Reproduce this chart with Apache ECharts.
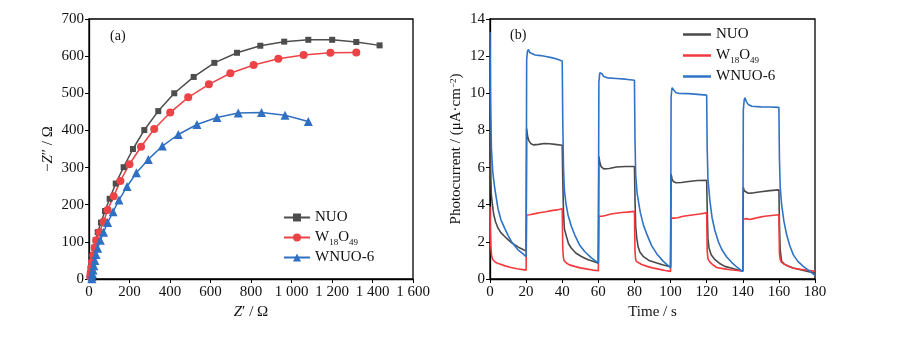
<!DOCTYPE html>
<html>
<head>
<meta charset="utf-8">
<script src="https://cdn.jsdelivr.net/npm/echarts@6/dist/echarts.min.js"></script>
<style>
html,body{margin:0;padding:0;background:#fff;}
#chart{width:911px;height:342px;}
</style>
</head>
<body>
<div id="chart"></div>
<script>
// ---------- Panel (a): Nyquist plot ----------
var zTickLabels = ['0','200','400','600','800','1 000','1 200','1 400','1 600'];
var nuoRe  = [1435,1320,1201,1083,964,846,731,619,517,421,342,273,217,171,132,102,79,59,43,33,25,18,13,9,6,4];
var nuoIm  = [629,638,644,644,639,628,609,582,544,500,452,401,350,301,257,216,183,152,126,104,84,64,46,30,16,6];
var w18Re  = [1320,1192,1060,935,813,698,592,490,401,322,257,200,155,122,92,72,52,36,28,21,15,11,8,6];
var w18Im  = [610,609,603,593,576,554,524,489,448,404,356,309,264,223,186,154,126,104,84,64,46,30,16,6];
var wnuRe  = [1083,968,852,737,632,533,441,362,293,234,188,148,119,92,72,56,43,35,29,24,20,17,15,14];
var wnuIm  = [424,441,448,447,435,416,389,358,322,286,249,213,181,152,126,104,83,66,50,36,24,14,6,1];

// ---------- Panel (b): Photocurrent vs time ([t, I]) ----------
var pcNUO = [
 [0,9.0],[0.3,6.0],[0.7,4.6],[1.1,4.2],[2,3.5],[3,3.1],[4.4,2.75],[6,2.5],[8,2.3],[10,2.12],[12,1.95],[14,1.82],[16,1.7],[18,1.6],[20,1.5],
 [20.3,8.1],[20.8,7.7],[21.5,7.45],[22.5,7.3],[24,7.22],[27,7.25],[30,7.3],[33,7.28],[36,7.25],[40,7.2],
 [40.3,5.4],[40.7,3.6],[41.2,2.7],[42.3,2.3],[43.5,1.9],[45,1.67],[47.5,1.4],[50.6,1.21],[54,1.05],[57,0.95],[60,0.85],
 [60.3,6.6],[60.8,6.3],[61.5,6.05],[63,5.93],[66,5.95],[70,6.03],[75,6.06],[80,6.06],
 [80.3,4.3],[80.7,2.8],[81.3,2.2],[82,1.75],[83,1.45],[85,1.2],[88,1.0],[92.4,0.86],[96,0.75],[100,0.66],
 [100.3,5.65],[100.8,5.4],[101.5,5.25],[103,5.18],[106,5.2],[110,5.25],[115,5.3],[120,5.32],
 [120.3,3.8],[120.7,2.2],[121.3,1.67],[122.5,1.3],[124.6,1.04],[127,0.85],[130,0.68],[134,0.58],[137,0.5],[140,0.42],
 [140.3,4.94],[140.8,4.75],[141.5,4.65],[143,4.62],[146,4.64],[150,4.7],[155,4.76],[160,4.8],
 [160.3,3.0],[160.7,1.6],[161.5,0.95],[163,0.8],[165,0.7],[168,0.59],[172,0.5],[176,0.4],[180,0.32]
];
var pcW18 = [
 [0,3.9],[0.2,2.6],[0.5,1.7],[0.9,1.25],[1.5,1.05],[3,0.9],[5,0.82],[8,0.72],[11,0.63],[15,0.55],[20,0.48],
 [20.3,3.45],[22,3.46],[25,3.52],[28,3.58],[31,3.62],[34,3.68],[37,3.72],[40,3.78],
 [40.3,1.7],[40.6,1.2],[41,1.0],[42.3,0.86],[44,0.76],[46.9,0.68],[50,0.6],[54,0.53],[57,0.48],[60,0.44],
 [60.3,3.38],[62,3.38],[64,3.42],[67,3.5],[70,3.54],[73,3.58],[76,3.6],[80,3.64],
 [80.3,1.5],[80.6,1.1],[81,0.95],[82,0.86],[84,0.78],[87,0.68],[90,0.6],[94,0.52],[97,0.46],[100,0.41],
 [100.3,3.28],[102,3.28],[104,3.3],[107,3.38],[110,3.42],[113,3.46],[116,3.5],[120,3.56],
 [120.3,1.5],[120.7,1.1],[121.5,0.95],[123,0.8],[125.5,0.62],[129,0.56],[133,0.5],[137,0.46],[140,0.43],
 [140.3,3.22],[142,3.25],[144,3.2],[146,3.25],[149,3.32],[152,3.38],[156,3.42],[160,3.46],
 [160.3,1.4],[160.7,1.05],[161.5,0.9],[163,0.8],[165,0.7],[168,0.58],[172,0.52],[176,0.47],[180,0.41]
];
var pcWNU = [
 [0,13.3],[0.3,9.6],[0.8,7.0],[1.5,5.8],[2.6,4.9],[4.4,3.8],[6,3.2],[8.1,2.74],[10,2.35],[11.8,2.02],[14,1.75],[15.5,1.57],[18,1.38],[20,1.2],
 [20.3,11.8],[20.7,12.25],[21.2,12.36],[22,12.2],[23,12.1],[25,12.06],[28,12.03],[31,11.98],[34,11.92],[37,11.85],[40,11.74],
 [40.3,8.5],[40.7,6.0],[41.2,4.8],[42,4.1],[43.2,3.45],[45,2.85],[46.9,2.38],[49.5,1.85],[52.4,1.48],[56,1.15],[60,0.85],
 [60.3,10.6],[60.8,11.1],[61.3,11.2],[62,11.05],[63,10.9],[65,10.83],[70,10.8],[75,10.76],[80,10.7],
 [80.3,7.5],[80.7,5.6],[81.5,4.6],[83.2,3.6],[85,2.9],[86.9,2.4],[89.5,1.8],[92.4,1.35],[96,0.95],[100,0.6],
 [100.3,9.8],[100.8,10.3],[101.2,10.38],[102,10.15],[103,10.03],[105,9.99],[110,9.98],[115,9.94],[120,9.9],
 [120.3,7.0],[120.7,5.4],[121.8,4.2],[123,3.3],[124.6,2.6],[126.5,2.0],[128.3,1.6],[131,1.2],[133.8,0.9],[137,0.62],[140,0.4],
 [140.3,9.1],[140.8,9.65],[141.2,9.76],[142,9.55],[143,9.4],[145,9.3],[150,9.27],[155,9.26],[160,9.24],
 [160.3,6.5],[160.7,5.0],[161.5,4.0],[162.8,3.1],[164.3,2.38],[166,1.8],[168,1.3],[170.5,0.95],[173.5,0.68],[177,0.42],[180,0.2]
];
var tTickLabels = ['0','20','40','60','80','100','120','140','160','180'];
var iTickLabels = ['0','2','4','6','8','10','12','14'];

function zip(a, b) { return a.map(function (v, i) { return [v, b[i]]; }); }

var FONT = '"Liberation Serif","Times New Roman",serif';
var cN = '#4d4d4d', cW = '#ec4347', cB = '#2f70c2';
var cN2 = '#4a4a4a', cW2 = '#f2393d', cB2 = '#2f73c6';

var subRich = {
  sub: { fontSize: 9, lineHeight: 8, verticalAlign: 'bottom', fontFamily: FONT, color: '#111' }
};
function legendFmt(name) {
  var n = name.replace('_b', '');
  if (n === 'W18O49') return 'W{sub|18}O{sub|49}';
  return n;
}
var axisLineStyle = { color: '#000', width: 1.3 };
var labelStyle = { fontFamily: FONT, fontSize: 15, color: '#111', margin: 6 };

var chart = echarts.init(document.getElementById('chart'), null, { renderer: 'canvas' });
chart.setOption({
  animation: false,
  backgroundColor: '#fff',
  textStyle: { fontFamily: FONT },
  grid: [
    { left: 89, top: 19, width: 324, height: 260, show: true, borderColor: '#000', borderWidth: 1.3, backgroundColor: 'transparent' },
    { left: 490, top: 19, width: 325, height: 260, show: true, borderColor: '#000', borderWidth: 1.3, backgroundColor: 'transparent' }
  ],
  xAxis: [
    { gridIndex: 0, type: 'value', min: 0, max: 1600, interval: 200,
      axisLine: { lineStyle: axisLineStyle }, axisTick: { inside: false, length: 4, lineStyle: { color: '#000' } },
      splitLine: { show: false },
      axisLabel: Object.assign({}, labelStyle, { formatter: function (v) { return zTickLabels[Math.round(v / 200)]; } }),
      name: '{i|Z}′ / Ω', nameLocation: 'middle', nameGap: 25,
      nameTextStyle: { fontFamily: FONT, fontSize: 15, color: '#111', rich: { i: { fontStyle: 'italic', fontFamily: FONT, fontSize: 15, color: '#111' } } }
    },
    { gridIndex: 1, type: 'value', min: 0, max: 180, interval: 20,
      axisLine: { lineStyle: axisLineStyle }, axisTick: { inside: false, length: 4, lineStyle: { color: '#000' } },
      splitLine: { show: false },
      axisLabel: Object.assign({}, labelStyle, { formatter: function (v) { return tTickLabels[Math.round(v / 20)]; } }),
      name: 'Time / s', nameLocation: 'middle', nameGap: 25,
      nameTextStyle: { fontFamily: FONT, fontSize: 15, color: '#111' }
    }
  ],
  yAxis: [
    { gridIndex: 0, type: 'value', min: 0, max: 700, interval: 100,
      axisLine: { show: true, lineStyle: axisLineStyle }, axisTick: { show: true, inside: false, length: 4, lineStyle: { color: '#000' } },
      splitLine: { show: false },
      axisLabel: Object.assign({}, labelStyle, { margin: 5 }),
      name: '−{i|Z}″ / Ω', nameLocation: 'middle', nameGap: 33,
      nameTextStyle: { fontFamily: FONT, fontSize: 15, color: '#111', rich: { i: { fontStyle: 'italic', fontFamily: FONT, fontSize: 15, color: '#111' } } }
    },
    { gridIndex: 1, type: 'value', min: 0, max: 14, interval: 2,
      axisLine: { show: true, lineStyle: axisLineStyle }, axisTick: { show: true, inside: false, length: 4, lineStyle: { color: '#000' } },
      splitLine: { show: false },
      axisLabel: Object.assign({}, labelStyle, { margin: 5, formatter: function (v) { return iTickLabels[Math.round(v / 2)]; } }),
      name: 'Photocurrent / (μA·cm{sup|−2})', nameLocation: 'middle', nameGap: 26,
      nameTextStyle: { fontFamily: FONT, fontSize: 15, color: '#111', rich: { sup: { fontSize: 9, lineHeight: 8, verticalAlign: 'top', fontFamily: FONT, color: '#111' } } }
    }
  ],
  legend: [
    { data: ['NUO', 'W18O49', 'WNUO-6'], orient: 'vertical', left: 283, top: 208, padding: 0, itemWidth: 26, itemHeight: 10, itemGap: 1,
      formatter: legendFmt, selectedMode: false,
      textStyle: { fontFamily: FONT, fontSize: 15, color: '#111', lineHeight: 19, rich: subRich } },
    { data: ['NUO_b', 'W18O49_b', 'WNUO-6_b'], orient: 'vertical', left: 683, top: 25, padding: 0, itemWidth: 28, itemHeight: 2.5, itemGap: 2,
      icon: 'rect', formatter: legendFmt, selectedMode: false,
      textStyle: { fontFamily: FONT, fontSize: 15, color: '#111', lineHeight: 19, rich: subRich } }
  ],
  graphic: [
    { type: 'text', left: 110, top: 29, style: { text: '(a)', font: '14px ' + FONT, fill: '#111' } },
    { type: 'text', left: 510, top: 28, style: { text: '(b)', font: '14px ' + FONT, fill: '#111' } }
  ],
  series: [
    { name: 'NUO', type: 'line', xAxisIndex: 0, yAxisIndex: 0, data: zip(nuoRe, nuoIm),
      symbol: 'rect', symbolSize: 6, color: cN, lineStyle: { width: 1.5, color: cN }, itemStyle: { color: cN } },
    { name: 'W18O49', type: 'line', xAxisIndex: 0, yAxisIndex: 0, data: zip(w18Re, w18Im),
      symbol: 'circle', symbolSize: 8, color: cW, lineStyle: { width: 1.5, color: cW }, itemStyle: { color: cW } },
    { name: 'WNUO-6', type: 'line', xAxisIndex: 0, yAxisIndex: 0, data: zip(wnuRe, wnuIm),
      symbol: 'triangle', symbolSize: 9, color: cB, lineStyle: { width: 1.5, color: cB }, itemStyle: { color: cB } },
    { name: 'NUO_b', type: 'line', xAxisIndex: 1, yAxisIndex: 1, data: pcNUO, showSymbol: false, symbol: 'none',
      color: cN2, lineStyle: { width: 1.6, color: cN2 } },
    { name: 'W18O49_b', type: 'line', xAxisIndex: 1, yAxisIndex: 1, data: pcW18, showSymbol: false, symbol: 'none',
      color: cW2, lineStyle: { width: 1.6, color: cW2 } },
    { name: 'WNUO-6_b', type: 'line', xAxisIndex: 1, yAxisIndex: 1, data: pcWNU, showSymbol: false, symbol: 'none',
      color: cB2, lineStyle: { width: 1.6, color: cB2 } }
  ]
});
</script>
</body>
</html>
